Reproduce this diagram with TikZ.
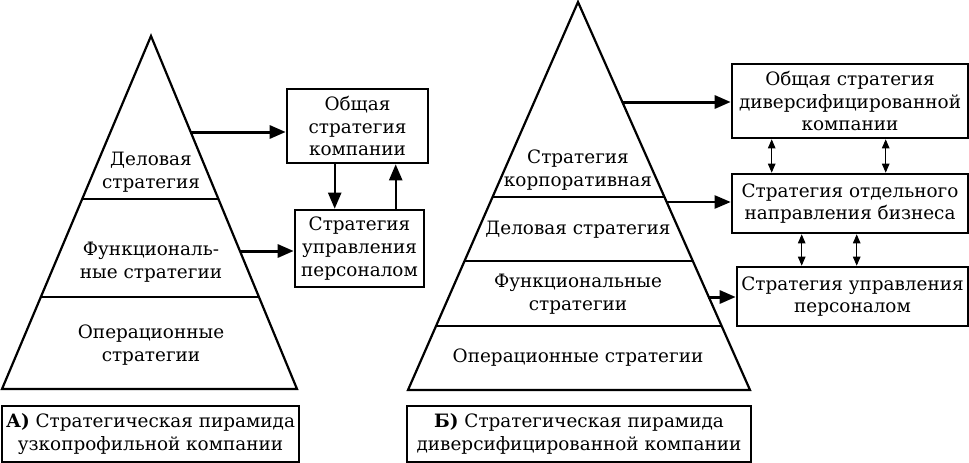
\documentclass[tikz,border=0pt]{standalone}
\usepackage{fontspec}
\setmainfont{DejaVu Serif}
\usetikzlibrary{arrows.meta,calc}
\tikzset{
  pyr/.style={line width=2.2pt, line join=miter},
  sep/.style={line width=2pt},
  box/.style={draw, line width=2.6pt, align=center, inner sep=0pt},
  lbl/.style={align=center, inner sep=0pt},
  bigarrow/.style={line width=3pt, -{Triangle[length=16pt,width=13pt]}},
  midarrow/.style={line width=2.3pt, -{Triangle[length=16pt,width=13pt]}},
  duo/.style={line width=1pt, {Triangle[length=9pt,width=7.5pt]}-{Triangle[length=9pt,width=7.5pt]}},
}
\begin{document}
\begin{tikzpicture}[x=1pt,y=-1pt,font=\fontsize{18.4}{22.8}\selectfont]
\useasboundingbox (0,0) rectangle (969,463);
% ---------- Left pyramid ----------
\coordinate (LA) at (151,36);
\coordinate (LL) at (2,389);
\coordinate (LR) at (297,389);
\draw[pyr] (LA) -- (LL) -- (LR) -- cycle;
\coordinate (ls1a) at (83,199); \coordinate (ls1b) at (218,199);
\coordinate (ls2a) at (41,297); \coordinate (ls2b) at (259,297);
\draw[sep] (ls1a) -- (ls1b);
\draw[sep] (ls2a) -- (ls2b);
\node[lbl] (l1) at (151,172) {Деловая\\стратегия};
\node[lbl] (l2) at (151,262) {Функциональ-\\ные стратегии};
\node[lbl] (l3) at (151,345) {Операционные\\стратегии};
% left boxes
\node[box, minimum width=141pt, minimum height=74pt] (A1) at (357.5,126) {Общая\\стратегия\\компании};
\node[box, minimum width=129pt, minimum height=77pt] (A2) at (359.5,248.5) {Стратегия\\управления\\персоналом};
\node[box, minimum width=297pt, minimum height=56pt] (CA) at (150.5,434) {\textbf{А)} Стратегическая пирамида\\узкопрофильной компании};
\coordinate (pa1) at (191,132);
\coordinate (pa2) at (240,251);
\draw[bigarrow] (pa1) -- (pa1 -| A1.west);
\draw[bigarrow] (pa2) -- (pa2 -| A2.west);
\draw[midarrow] ([xshift=49pt]A1.south west) -- ([xshift=49pt]A1.south west |- A2.north);
\draw[midarrow] ([xshift=110pt]A1.south west |- A2.north) -- ([xshift=110pt]A1.south west);
% ---------- Right pyramid ----------
\coordinate (RA) at (578,2);
\coordinate (RL) at (408,390);
\coordinate (RR) at (750,390);
\draw[pyr] (RA) -- (RL) -- (RR) -- cycle;
\coordinate (rs1a) at (493,197); \coordinate (rs1b) at (664,197);
\coordinate (rs2a) at (465,261); \coordinate (rs2b) at (692,261);
\coordinate (rs3a) at (437,326); \coordinate (rs3b) at (721,326);
\draw[sep, line width=2.6pt] (rs1a) -- (rs1b);
\draw[sep] (rs2a) -- (rs2b);
\draw[sep] (rs3a) -- (rs3b);
\node[lbl] (r1) at (578,170) {Стратегия\\корпоративная};
\node[lbl] (r2) at (578,230) {Деловая стратегия};
\node[lbl] (r3) at (578,294.5) {Функциональные\\стратегии};
\node[lbl] (r4) at (578,358) {Операционные стратегии};
% right boxes
\node[box, minimum width=236pt, minimum height=74pt] (B1) at (850,101) {Общая стратегия\\диверсифицированной\\компании};
\node[box, minimum width=236pt, minimum height=59pt] (B2) at (850,203.5) {Стратегия отдельного\\направления бизнеса};
\node[box, minimum width=231pt, minimum height=59pt] (B3) at (852.5,296.5) {Стратегия управления\\персоналом};
\node[box, minimum width=344pt, minimum height=56pt] (CB) at (579,434) {\textbf{Б)} Стратегическая пирамида\\диверсифицированной компании};
\coordinate (pb1) at (623,102);
\coordinate (pb2) at (667,202);
\coordinate (pb3) at (708,297);
\draw[bigarrow] (pb1) -- (pb1 -| B1.west);
\draw[midarrow] (pb2) -- (pb2 -| B2.west);
\draw[bigarrow] (pb3) -- (pb3 -| B3.west);
\draw[duo] ([xshift=41pt]B1.south west) -- ([xshift=41pt]B1.south west |- B2.north);
\draw[duo] ([xshift=155pt]B1.south west) -- ([xshift=155pt]B1.south west |- B2.north);
\draw[duo] ([xshift=71pt]B2.south west) -- ([xshift=71pt]B2.south west |- B3.north);
\draw[duo] ([xshift=126pt]B2.south west) -- ([xshift=126pt]B2.south west |- B3.north);
\end{tikzpicture}
\end{document}
